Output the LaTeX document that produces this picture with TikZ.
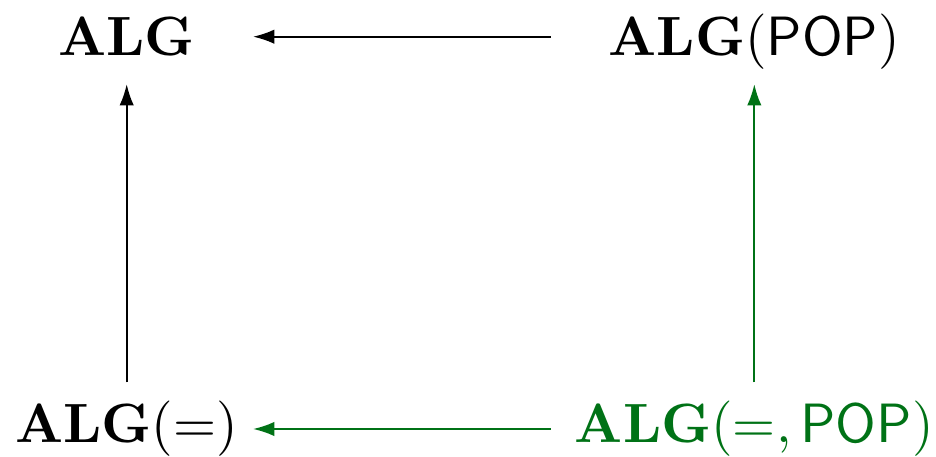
\documentclass[tikz,border=0pt]{standalone}
\usetikzlibrary{arrows.meta}
\definecolor{dgreen}{RGB}{0,114,22}
\newcommand{\bigtxt}[1]{\scalebox{1.035}{#1}}
\begin{document}
\begin{tikzpicture}[x=0.18692pt,y=-0.18692pt,
  obj/.style={inner sep=0pt,outer sep=0pt},
  toprow/.style={text height=7.1pt,text depth=0pt,minimum height=17.7pt},
  botrow/.style={text height=7.76pt,text depth=2.59pt,minimum height=17.46pt},
  leftcol/.style={minimum width=47.2pt},
  rightcol/.style={minimum width=76.1pt},
  arr/.style={-{Latex[length=4pt,width=2.7pt]},line width=0.4pt}]
\useasboundingbox (0,0) rectangle (936,457);
\node[obj,toprow,leftcol] (alg) at (126.7,36.7) {\bigtxt{$\mathbf{ALG}$}};
\node[obj,toprow,rightcol] (pop) at (754.3,36.7) {\bigtxt{$\mathbf{ALG}(\mathsf{POP})$}};
\node[obj,botrow,leftcol] (eq) at (126.7,429) {\bigtxt{$\mathbf{ALG}(=)$}};
\node[obj,botrow,rightcol,text=dgreen] (eqpop) at (754.3,429) {\bigtxt{$\mathbf{ALG}(=,\mathsf{POP})$}};
\draw[arr] (pop) -- (alg);
\draw[arr] (eq) -- (alg);
\draw[arr,dgreen] (eqpop) -- (eq);
\draw[arr,dgreen] (eqpop) -- (pop);
\end{tikzpicture}
\end{document}
